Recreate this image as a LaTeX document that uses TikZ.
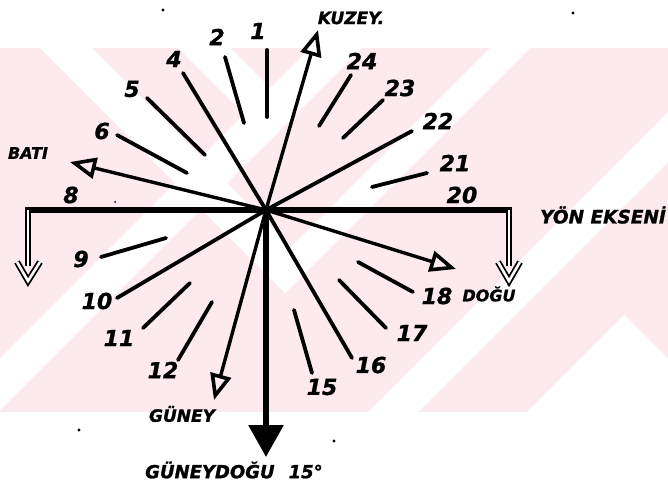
\documentclass[tikz,border=0pt]{standalone}
\usepackage{fontspec}
\setmainfont{DejaVu Sans}[BoldItalicFeatures={FakeBold=1.2}]
\usetikzlibrary{arrows.meta}
\definecolor{wm}{RGB}{252,234,238}
\begin{document}
\begin{tikzpicture}[x=1pt,y=-1pt,
  ray/.style={line width=3.8pt,line cap=round},
  axisline/.style={line width=5.5pt,line cap=rect},
  openarr/.style={line width=3.4pt,line cap=round,-{Triangle[open,length=26pt,width=21pt,line width=3.6pt]}},
  bigarr/.style={line width=6pt,-{Triangle[length=32pt,width=34pt]}},
  dbl/.style={double,double distance=2.6pt,line width=1.8pt},
  lbl/.style={inner sep=0pt,font=\bfseries\itshape\fontsize{22}{22}\selectfont},
  word/.style={inner sep=0pt,font=\bfseries\itshape\fontsize{16}{16}\selectfont},
  speck/.style={fill=black}]
\useasboundingbox (0,0) rectangle (668,494);
\fill[white] (0,0) rectangle (668,494);
% faint watermark
\begin{scope}
  \clip (0,48) rectangle (668,412);
  \fill[wm] (0,48) rectangle (668,412);
  \fill[white] (40,48) -- (285,293) -- (530,48) -- (490,48) -- (291,247) -- (92,48) -- cycle;
  \fill[white] (178,48) -- (230,48) -- (296,114) -- (270,140) -- cycle;
  \fill[white] (310,48) -- (362,48) -- (-2,412) -- (-54,412) -- cycle;
  \fill[white] (732,48) -- (782,48) -- (418,412) -- (368,412) -- cycle;
  \fill[white] (624,315) -- (721,412) -- (527,412) -- cycle;
\end{scope}
% centre and ends
\coordinate (O) at (266,210);
\coordinate (kz) at (318,30);
\coordinate (bt) at (70,162);
\coordinate (dg) at (456,269);
\coordinate (gn) at (214,400);
\coordinate (gd) at (266,457);
\coordinate (r4) at (183,73);
\coordinate (r16) at (352,358);
\coordinate (r22) at (412,131);
\coordinate (r10) at (117,298);
% axis
\coordinate (L0) at (28,210);
\coordinate (L1) at (28,266);
\coordinate (L2) at (28,281);
\coordinate (L3) at (17,262);
\coordinate (L4) at (40,262);
\coordinate (R0) at (509,210);
\coordinate (R1) at (509,266);
\coordinate (R2) at (509,281);
\coordinate (R3) at (498,262);
\coordinate (R4) at (520,262);
\draw[axisline] (L0) -- (R0);
\draw[dbl] (L0) -- (L1);
\draw[dbl,line join=miter] (L3) -- (L2) -- (L4);
\draw[dbl] (R0) -- (R1);
\draw[dbl,line join=miter] (R3) -- (R2) -- (R4);
% short direction strokes
\coordinate (a1) at (267,50);   \coordinate (b1) at (267,117);
\coordinate (a2) at (225,57);   \coordinate (b2) at (244,123);
\coordinate (a5) at (147,98);   \coordinate (b5) at (205,155);
\coordinate (a6) at (117,135);  \coordinate (b6) at (187,173);
\coordinate (a9) at (101,257);  \coordinate (b9) at (166,238);
\coordinate (a11) at (143,328); \coordinate (b11) at (190,283);
\coordinate (a12) at (178,360); \coordinate (b12) at (212,302);
\coordinate (a15) at (294,310); \coordinate (b15) at (312,373);
\coordinate (a17) at (339,280); \coordinate (b17) at (386,328);
\coordinate (a18) at (358,262); \coordinate (b18) at (413,292);
\coordinate (a21) at (372,187); \coordinate (b21) at (427,173);
\coordinate (a23) at (343,138); \coordinate (b23) at (383,100);
\coordinate (a24) at (319,126); \coordinate (b24) at (351,75);
\foreach \n in {1,2,5,6,9,11,12,15,17,18,21,23,24}
  \draw[ray] (a\n) -- (b\n);
% long lines through the centre
\draw[ray] (r4) -- (O) -- (r16);
\draw[ray] (r22) -- (O) -- (r10);
% arrows
\draw[openarr] (O) -- (kz);
\draw[openarr] (O) -- (bt);
\draw[openarr] (O) -- (dg);
\draw[openarr] (O) -- (gn);
\draw[bigarr] (O) -- (gd);
% numbers
\node[lbl] (n1) at (258,31) {1};
\node[lbl] (n2) at (217,37) {2};
\node[lbl] (n4) at (174,59) {4};
\node[lbl] (n5) at (132,89) {5};
\node[lbl] (n6) at (102,131) {6};
\node[lbl] (n8) at (71,195) {8};
\node[lbl] (n9) at (81,259) {9};
\node[lbl] (n10) at (97,301) {10};
\node[lbl] (n11) at (119,338) {11};
\node[lbl] (n12) at (163,370) {12};
\node[lbl] (n15) at (322,387) {15};
\node[lbl] (n16) at (371,365) {16};
\node[lbl] (n17) at (412,333) {17};
\node[lbl] (n18) at (437,296) {18};
\node[lbl] (n20) at (462,195) {20};
\node[lbl] (n21) at (455,163) {21};
\node[lbl] (n22) at (438,121) {22};
\node[lbl] (n23) at (400,88) {23};
\node[lbl] (n24) at (362,61) {24};
% words
\node[word,font=\bfseries\itshape\fontsize{17}{17}\selectfont] (tk) at (351,18) {KUZEY.};
\node[word] (tb) at (28,153) {BATI};
\node[word,font=\bfseries\itshape\fontsize{18.5}{18.5}\selectfont] (ty) at (603,215) {YÖN EKSENİ};
\node[word] (td) at (489,294) {DOĞU};
\node[word,font=\bfseries\itshape\fontsize{17}{17}\selectfont] (tg) at (182,414) {GÜNEY};
\node[word,font=\bfseries\itshape\fontsize{18}{18}\selectfont,anchor=west] (tgd) at (145,470) {GÜNEYDOĞU\hspace{14pt}15°};
% stray specks of the scan
\fill[speck] (163,10) circle (1.6);
\fill[speck] (573,13) circle (1.6);
\fill[speck] (79,430) circle (1.6);
\fill[speck] (334,441) circle (1.6);
\fill[speck] (115,202) circle (1.0);
\end{tikzpicture}
\end{document}
